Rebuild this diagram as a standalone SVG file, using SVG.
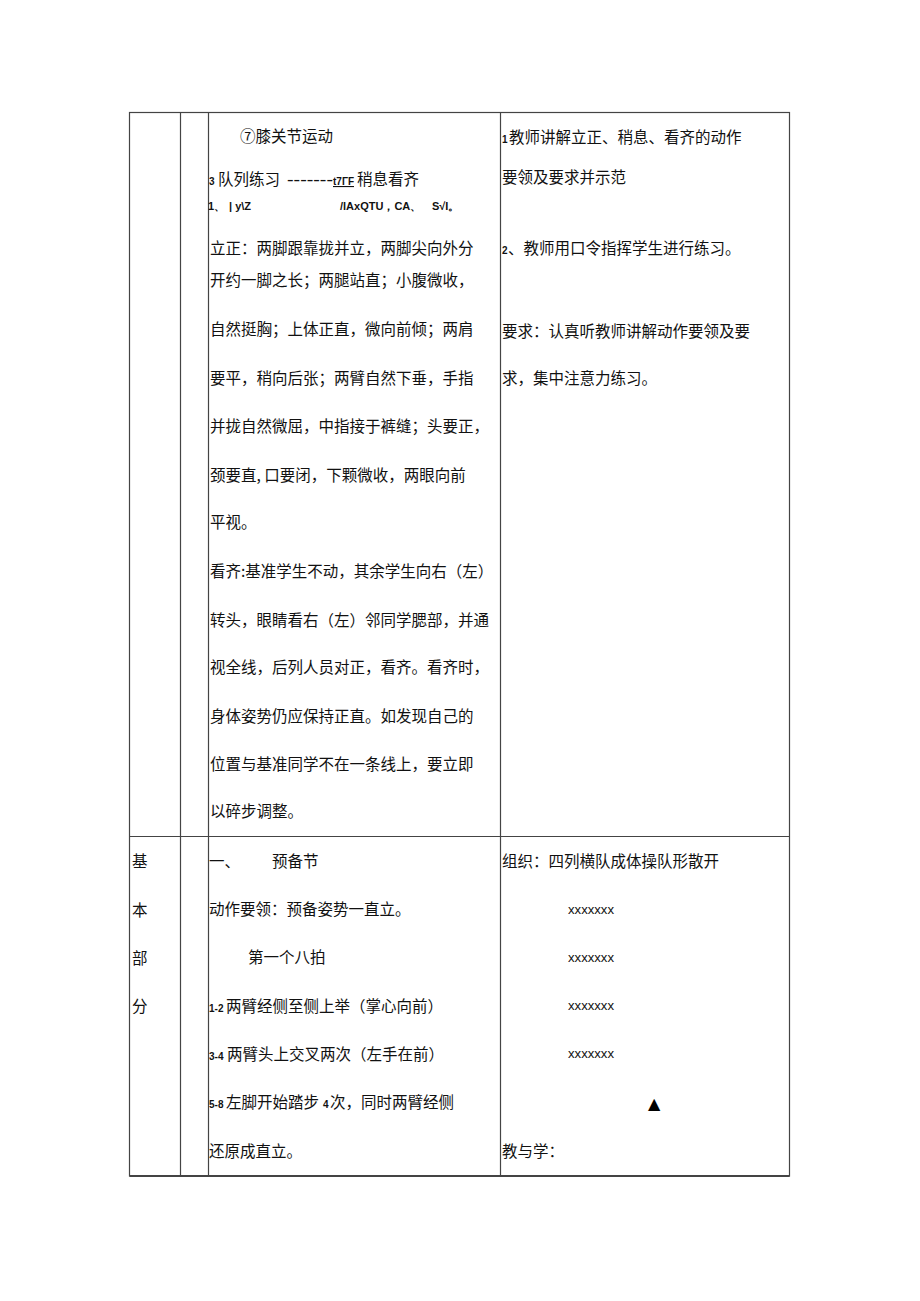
<svg xmlns="http://www.w3.org/2000/svg" width="920" height="1301" viewBox="0 0 920 1301">
<style>
.t{font-family:"Noto Sans CJK SC","Liberation Sans",sans-serif;font-size:15.5px;fill:#111}
.s{font-family:"Liberation Sans",Arial,sans-serif;font-size:10px;font-weight:bold;fill:#111}
.m{font-family:"Liberation Sans",Arial,sans-serif;font-size:11px;font-weight:bold;fill:#111}
.x{font-family:"Liberation Sans",Arial,sans-serif;font-size:13px;fill:#111}
.ln{stroke:#444;stroke-width:1.2;fill:none}
</style>
<rect width="920" height="1301" fill="#fff"/>
<g id="table">
<rect class="ln" x="129.5" y="112.5" width="660" height="1063.5"/>
<line class="ln" x1="180.5" y1="112.5" x2="180.5" y2="1176"/>
<line class="ln" x1="208.5" y1="112.5" x2="208.5" y2="1176"/>
<line class="ln" x1="500.5" y1="112.5" x2="500.5" y2="1176"/>
<line class="ln" x1="129.5" y1="836.5" x2="789.5" y2="836.5"/>
<line stroke="#444" stroke-width="2" x1="129.5" y1="1176" x2="789.5" y2="1176"/>
</g>
<g id="cell-top-content">
<text class="t" x="240" y="142">⑦膝关节运动</text>
<text class="s" x="209" y="185">3</text>
<text class="t" x="218" y="185">队列练习</text>
<text class="m" x="287" y="183" textLength="46" lengthAdjust="spacingAndGlyphs">-------</text>
<text class="m" x="333" y="185" textLength="21" lengthAdjust="spacingAndGlyphs" text-decoration="underline">t7ΓF</text>
<text class="t" x="357" y="185">稍息看齐</text>
<text class="m" x="208" y="210">1、</text>
<text class="m" x="229" y="210">| y\Z</text>
<text class="m" x="340" y="210">/lAxQTU，CA、</text>
<text class="m" x="432" y="210">S√I。</text>
<text class="t" x="210" y="254">立正：两脚跟靠拢并立，两脚尖向外分</text>
<text class="t" x="210" y="286">开约一脚之长；两腿站直；小腹微收，</text>
<text class="t" x="210" y="335">自然挺胸；上体正直，微向前倾；两肩</text>
<text class="t" x="210" y="384">要平，稍向后张；两臂自然下垂，手指</text>
<text class="t" x="210" y="432">并拢自然微屈，中指接于裤缝；头要正，</text>
<text class="t" x="210" y="481">颈要直, 口要闭，下颗微收，两眼向前</text>
<text class="t" x="210" y="528">平视。</text>
<text class="t" x="210" y="577">看齐:基准学生不动，其余学生向右（左）</text>
<text class="t" x="210" y="626">转头，眼睛看右（左）邻同学腮部，并通</text>
<text class="t" x="210" y="673">视全线，后列人员对正，看齐。看齐时，</text>
<text class="t" x="210" y="722">身体姿势仍应保持正直。如发现自己的</text>
<text class="t" x="210" y="770">位置与基准同学不在一条线上，要立即</text>
<text class="t" x="210" y="817">以碎步调整。</text>
</g>
<g id="cell-top-method">
<text class="s" x="502" y="143">1</text>
<text class="t" x="509" y="143">教师讲解立正、稍息、看齐的动作</text>
<text class="t" x="502" y="183">要领及要求并示范</text>
<text class="s" x="502" y="254">2</text>
<text class="t" x="508" y="254">、教师用口令指挥学生进行练习。</text>
<text class="t" x="502" y="337">要求：认真听教师讲解动作要领及要</text>
<text class="t" x="502" y="384">求，集中注意力练习。</text>
</g>
<g id="cell-bottom-label">
<text class="t" x="132" y="867">基</text>
<text class="t" x="132" y="916">本</text>
<text class="t" x="132" y="964">部</text>
<text class="t" x="132" y="1012">分</text>
</g>
<g id="cell-bottom-content">
<text class="t" x="209" y="867">一、</text>
<text class="t" x="272" y="867">预备节</text>
<text class="t" x="209" y="915">动作要领：预备姿势一直立。</text>
<text class="t" x="248" y="963">第一个八拍</text>
<text class="s" x="209" y="1012">1-2</text>
<text class="t" x="226" y="1012">两臂经侧至侧上举（掌心向前）</text>
<text class="s" x="209" y="1060">3-4</text>
<text class="t" x="227" y="1060">两臂头上交叉两次（左手在前）</text>
<text class="s" x="209" y="1108">5-8</text>
<text class="t" x="226" y="1108">左脚开始踏步</text>
<text class="s" x="323" y="1108">4</text>
<text class="t" x="330" y="1108">次，同时两臂经侧</text>
<text class="t" x="209" y="1157">还原成直立。</text>
</g>
<g id="cell-bottom-method">
<text class="t" x="502" y="867">组织：四列横队成体操队形散开</text>
<text class="x" x="568" y="914" textLength="46" lengthAdjust="spacingAndGlyphs">xxxxxxx</text>
<text class="x" x="568" y="962" textLength="46" lengthAdjust="spacingAndGlyphs">xxxxxxx</text>
<text class="x" x="568" y="1010" textLength="46" lengthAdjust="spacingAndGlyphs">xxxxxxx</text>
<text class="x" x="568" y="1058" textLength="46" lengthAdjust="spacingAndGlyphs">xxxxxxx</text>
<text x="648" y="1109" style="font-family:'DejaVu Sans',sans-serif;font-size:16px;fill:#000">▲</text>
<text class="t" x="502" y="1157">教与学：</text>
</g>
</svg>
